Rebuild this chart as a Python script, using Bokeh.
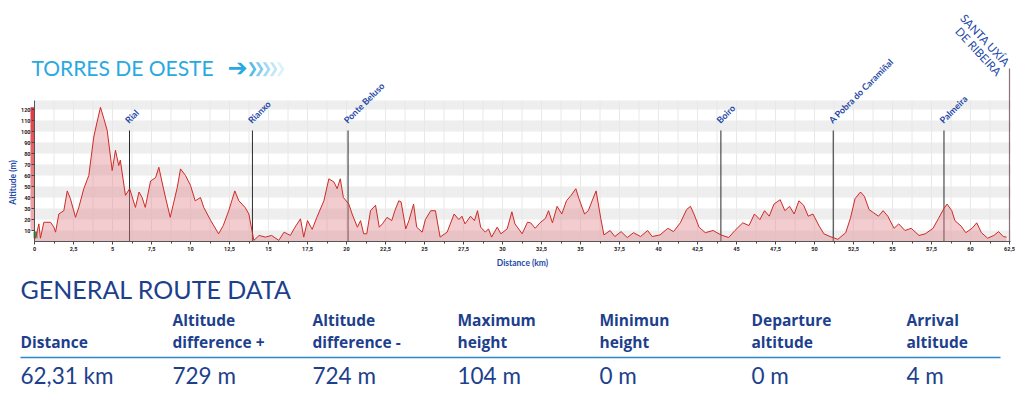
from bokeh.plotting import figure
from bokeh.models import Range1d, FixedTicker, Label, LinearAxis
from bokeh.embed import file_html
from bokeh.resources import INLINE
from bokeh.core.properties import value

# ---------------- data ----------------
distance_km = [0.0, 0.1, 0.28, 0.38, 0.6, 1.03, 1.24, 1.35, 1.56, 1.88, 2.1, 2.3, 2.63, 2.84, 3.16, 3.48,
               3.8, 4.0, 4.23, 4.44, 4.66, 4.98, 5.19, 5.4, 5.5, 5.83, 6.1, 6.47, 6.7, 6.9, 7.1, 7.44,
               7.76, 7.97, 8.3, 8.7, 9.15, 9.36, 9.68, 10.0, 10.3, 10.64, 10.85, 11.3, 11.8, 12.1, 12.45,
               12.84, 13.1, 13.5, 13.74, 14.06, 14.4, 14.8, 15.2, 15.66, 16.0, 16.4, 16.7, 17.05, 17.26,
               17.5, 17.8, 18.1, 18.55, 18.87, 19.2, 19.4, 19.6, 19.8, 20.15, 20.36, 20.7, 20.9, 21.1,
               21.3, 21.54, 21.86, 22.1, 22.3, 22.6, 22.9, 23.1, 23.35, 23.5, 23.8, 24.0, 24.3, 24.5,
               24.85, 25.06, 25.4, 25.7, 26.0, 26.45, 26.9, 27.2, 27.4, 27.6, 27.95, 28.2, 28.4, 28.6,
               28.9, 29.1, 29.3, 29.66, 29.9, 30.3, 30.6, 30.8, 31.26, 31.6,
               31.8, 32.1, 32.4, 32.75, 32.95, 33.2, 33.5, 33.8, 34.1, 34.4, 34.7, 34.9, 35.26, 35.5,
               35.8, 36.0, 36.3, 36.5, 36.9, 37.2, 37.6, 38.0, 38.4, 38.85, 39.3, 39.6, 40.1, 40.6,
               40.96, 41.4, 41.8, 42.05, 42.3, 42.6, 43.0, 43.5, 44.0, 44.5, 44.9, 45.4, 45.8, 46.15,
               46.5, 46.8, 47.1, 47.4, 47.8, 48.1, 48.4, 48.7, 49.0, 49.3, 49.6, 49.9, 50.3, 50.6,
               51.0, 51.5, 52.0, 52.3, 52.6, 52.95, 53.2, 53.5, 53.8, 54.1, 54.4, 54.7, 55.1, 55.4,
               55.8, 56.2, 56.7, 57.1, 57.6, 57.95, 58.3, 58.5, 58.8, 59.0, 59.4, 59.7, 60.1, 60.4,
               60.7, 61.1, 61.5, 61.8, 62.1, 62.31]
altitude_m = [2, 5, 16, 3, 17.5, 17.5, 13, 8.5, 25, 28, 46, 39, 22, 31, 48, 60,
              95, 108, 122, 112, 101, 64.5, 83, 69, 74, 42, 48, 31, 45, 40, 31, 55,
              58, 67.5, 46, 22, 49, 66, 60, 51, 37, 40, 31, 19, 7, 14.5, 28,
              46, 37, 31, 25, 1, 5.5, 4, 5.5, 1, 8.5, 5.5, 13, 20.6, 4,
              19, 11, 22, 37, 57, 54, 48, 57, 40, 34, 25, 13, 19, 7,
              7, 28, 33, 13, 16, 22, 19, 28, 37, 36, 11.5, 19, 34, 13,
              8.5, 20, 28, 28, 4, 8.5, 25, 20, 23, 16, 23, 19, 28, 13,
              8.5, 11.5, 4, 13, 7, 11.5, 27, 16, 7, 17.5,
              17, 12, 17, 21, 28, 17, 32, 25, 37, 42, 48, 39, 25, 28,
              39, 46, 21, 6, 10, 4.5, 9, 3.6, 8, 4.5, 10, 4.5, 6, 12,
              9, 17, 29, 32, 24, 13, 8, 10, 6, 3.6, 10, 17, 14.5, 25,
              20, 28, 23, 34, 38, 28, 32, 25, 37, 33, 23, 25, 14, 7,
              4.5, 2, 8, 21, 39, 45, 41, 29, 26, 23, 28, 23, 12, 16,
              10, 12, 5.5, 7, 12, 21, 30, 34, 28, 19, 14, 8, 12, 17,
              8, 3, 5.5, 9, 4.5, 4]

place_names = ["Rial", "Rianxo", "Ponte Beluso", "Boiro", "A Pobra do Caramiñal", "Palmeira"]
place_km = [6.09, 13.97, 20.1, 44.0, 51.2, 58.3]
end_place_lines = ["SANTA UXÍA", "DE RIBEIRA"]
end_place_km = 62.5

x_ticks = [i * 2.5 for i in range(26)]
x_tick_labels = [f"{t:g}".replace(".", ",") for t in x_ticks]
x_minor_ticks = [i * 2.5 + 1.25 for i in range(25)]
y_ticks = [10, 20, 30, 40, 50, 60, 70, 80, 90, 100, 110, 120]

route_title = "TORRES DE OESTE"
x_title = "Distance (km)"
y_title = "Altitude (m)"
table_title = "GENERAL ROUTE DATA"
header_line1 = ["", "Altitude", "Altitude", "Maximum", "Minimun", "Departure", "Arrival"]
header_line2 = ["Distance", "difference +", "difference -", "height", "height", "altitude", "altitude"]
table_values = ["62,31 km", "729 m", "724 m", "104 m", "0 m", "0 m", "4 m"]

# ---------------- styling / layout ----------------
DARK_BLUE = "#1d3f8c"
LABEL_BLUE = "#1f4aa8"
LIGHT_BLUE = "#29a9e1"
W, H = 1020, 396
KM_PX = 15.6          # pixels per km
M_PX = 1.1            # pixels per metre
ORIGIN_X, ORIGIN_Y = 34, 241   # page pixel of (0 km, 0 m)
ALT_TOP = (ORIGIN_Y - 100) / M_PX
KM_END = (1010 - ORIGIN_X) / KM_PX


def px2km(px):      # page x -> km
    return (px - ORIGIN_X) / KM_PX


def py2alt(py):     # page y -> altitude
    return (ORIGIN_Y - py) / M_PX


p = figure(width=W, height=H,
           x_range=Range1d(px2km(0), px2km(W)), y_range=Range1d(py2alt(H), py2alt(0)),
           output_backend="svg", toolbar_location=None, min_border=0,
           x_axis_location=None, y_axis_location=None)
p.outline_line_color = None
p.grid.visible = False
p.background_fill_color = "white"
p.border_fill_color = "white"

# background bands and vertical grid lines
band_bottoms = [0] + y_ticks[1::2]
p.quad(left=0, right=KM_END, bottom=band_bottoms,
       top=[min(b + 10, ALT_TOP) for b in band_bottoms],
       fill_color="#eeeeee", line_color=None)
grid_x = [i * 1.25 for i in range(1, 51)]
p.segment(x0=grid_x, y0=[0] * len(grid_x), x1=grid_x, y1=[ALT_TOP] * len(grid_x),
          line_color="#e8e8e8", line_width=1)

# altitude colour strip on the left
for i, t in enumerate(y_ticks):
    p.quad(left=px2km(30), right=0, bottom=t, top=t + 10 if t < 120 else 122,
           fill_color="#e0262b", fill_alpha=0.35 + 0.055 * i, line_color=None)
p.quad(left=-0.06, right=0.2, bottom=3, top=9, fill_color="#2ea043", line_color=None)

# place markers (under the translucent fill)
LINE_TOP = py2alt(130)
p.segment(x0=place_km, y0=[0] * len(place_km), x1=place_km, y1=[LINE_TOP] * len(place_km),
          line_color="#2a2a2a", line_width=1)
p.segment(x0=[end_place_km], y0=[0], x1=[end_place_km], y1=[py2alt(68)],
          line_color="#8a6f74", line_width=1.2)

# profile
p.varea(x=distance_km, y1=[0] * len(distance_km), y2=altitude_m, fill_color="#e2868c", fill_alpha=0.42)
p.line(distance_km, altitude_m, line_color="#cc2b27", line_width=1)

# axes drawn at the origin of the profile
xaxis = LinearAxis(fixed_location=0, bounds=(0, KM_END),
                   ticker=FixedTicker(ticks=x_ticks, minor_ticks=x_minor_ticks),
                   major_label_overrides={t: l for t, l in zip(x_ticks, x_tick_labels)},
                   axis_label=x_title)
yaxis = LinearAxis(fixed_location=0, bounds=(0, ALT_TOP), ticker=FixedTicker(ticks=y_ticks))
for ax in (xaxis, yaxis):
    ax.major_label_text_font_size = "5.5px"
    ax.major_label_text_font = "Roboto"
    ax.major_label_text_font_style = "bold"
    ax.major_label_text_color = "#222222"
    ax.axis_label_text_font = "Lato"
    ax.axis_label_text_font_size = "8.5px"
    ax.axis_label_text_font_style = "bold"
    ax.axis_label_text_color = LABEL_BLUE
    ax.major_tick_line_color = "#444444"
    ax.minor_tick_line_color = "#444444"
    ax.axis_line_color = "#555555"
    ax.major_tick_in = 0
    ax.minor_tick_in = 0
xaxis.major_tick_out = 3
xaxis.minor_tick_out = 2
xaxis.major_label_standoff = 2
xaxis.axis_label_standoff = 4
yaxis.major_tick_out = 3
yaxis.minor_tick_line_color = None
yaxis.major_label_standoff = 1
p.add_layout(xaxis, "below")
p.add_layout(yaxis, "left")
p.add_layout(Label(x=px2km(12), y=py2alt(182), text=y_title, angle=90, angle_units="deg",
                   text_font="Lato", text_font_style="bold", text_font_size="8.5px",
                   text_color=LABEL_BLUE, text_align="center", text_baseline="middle"))

# place names
for name, km in zip(place_names, place_km):
    p.add_layout(Label(x=km, y=LINE_TOP, text=name, angle=45, angle_units="deg",
                       x_offset=1, y_offset=5, text_font="Lato", text_font_style="bold",
                       text_font_size="9px", text_color=LABEL_BLUE,
                       text_align="left", text_baseline="bottom"))
for line_txt, (sx, sy) in zip(end_place_lines, [(967, 11), (962, 24)]):
    p.add_layout(Label(x=px2km(sx), y=py2alt(sy), text=line_txt, angle=-47, angle_units="deg",
                       text_font="Lato", text_font_size="11.5px", text_color=LABEL_BLUE,
                       text_align="left", text_baseline="top"))

# route title with arrow
p.add_layout(Label(x=px2km(31), y=py2alt(67), text=route_title, text_font="Lato",
                   text_font_size="21px", text_color=LIGHT_BLUE, text_baseline="middle"))
p.add_layout(Label(x=px2km(227), y=py2alt(67), text="➔", text_font="DejaVu Sans",
                   text_font_size="24px", text_color=LIGHT_BLUE, text_baseline="middle"))
for k, a in enumerate([0.8, 0.6, 0.45, 0.3, 0.18]):
    p.add_layout(Label(x=px2km(246 + 7 * k), y=py2alt(67), text="❯", text_font="DejaVu Sans",
                       text_font_size="14px", text_font_style="bold", text_color=LIGHT_BLUE,
                       text_alpha=a, text_baseline="middle"))

# ---------------- route data table ----------------
col_x = [px2km(x) for x in [20, 172, 312, 457, 599, 751, 906]]
p.text(x=[px2km(20)], y=[py2alt(288.5)], text=[table_title], text_font=value("Lato"),
       text_font_size="25px", text_color=DARK_BLUE, text_baseline="middle")
p.text(x=col_x, y=[py2alt(319)] * 7, text=header_line1, text_font=value("Open Sans"),
       text_font_size="15.5px", text_font_style="bold", text_color=DARK_BLUE, text_baseline="middle")
p.text(x=col_x, y=[py2alt(341)] * 7, text=header_line2, text_font=value("Open Sans"),
       text_font_size="15.5px", text_font_style="bold", text_color=DARK_BLUE, text_baseline="middle")
p.segment(x0=[px2km(20)], y0=[py2alt(357)], x1=[px2km(1000)], y1=[py2alt(357)],
          line_color="#2a88c9", line_width=1.3)
p.text(x=col_x, y=[py2alt(375)] * 7, text=table_values, text_font=value("Lato"),
       text_font_size="22.5px", text_color=DARK_BLUE, text_baseline="middle")

open("out.html", "w").write(file_html(p, INLINE))
